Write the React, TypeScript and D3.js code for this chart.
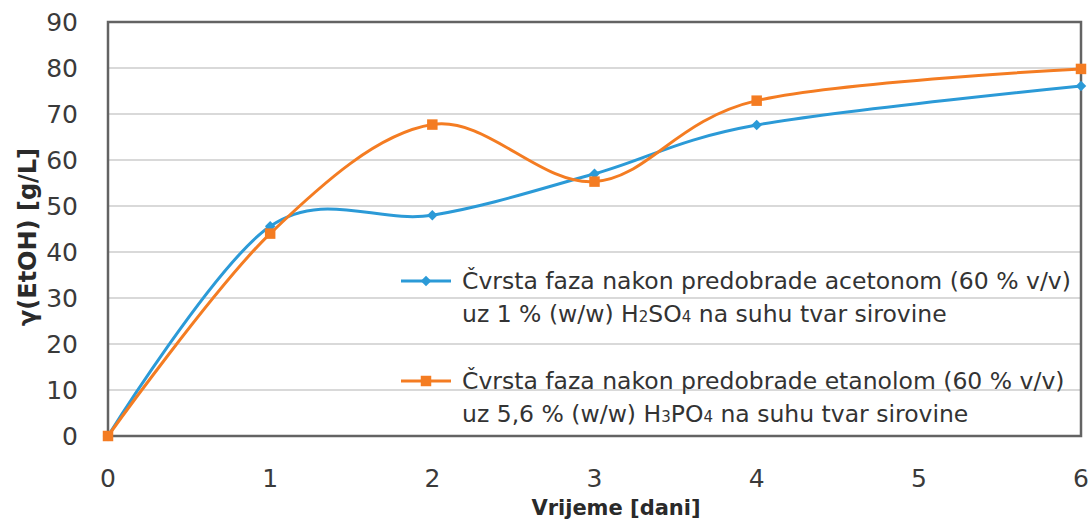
import { useEffect, useRef } from 'react'
import * as d3 from 'd3'

const days = [0, 1, 2, 3, 4, 6]
const acetoneSeries = [0, 45.6, 48, 57, 67.6, 76.1]
const ethanolSeries = [0, 44, 67.7, 55.3, 72.9, 79.8]
const xTicks = [0, 1, 2, 3, 4, 5, 6]
const yTicks = [0, 10, 20, 30, 40, 50, 60, 70, 80, 90]

const blue = '#2b9ad7'
const orange = '#f47c22'
const font = 'DejaVu Sans, Verdana, sans-serif'

const App = () => {
  const ref = useRef<SVGSVGElement | null>(null)
  const width = 1091
  const height = 521

  useEffect(() => {
    if (!ref.current) return
    const svg = d3.select(ref.current)
    svg.selectAll('*').remove()

    const left = 108, right = 1081, top = 22, bottom = 436

    const x = d3.scaleLinear().domain([0, 6]).range([left, right])
    const y = d3.scaleLinear().domain([0, 90]).range([bottom, top])

    svg.append('rect').attr('width', width).attr('height', height).attr('fill', '#fff')

    // grid
    svg.append('g').selectAll('line')
      .data(yTicks.filter(d => d > 0 && d < 90))
      .enter().append('line')
      .attr('x1', left).attr('x2', right)
      .attr('y1', d => y(d)).attr('y2', d => y(d))
      .attr('stroke', '#d9d9d9').attr('stroke-width', 2)

    // frame
    svg.append('rect')
      .attr('x', left).attr('y', top)
      .attr('width', right - left).attr('height', bottom - top)
      .attr('fill', 'none').attr('stroke', '#636363').attr('stroke-width', 2.5)

    // tick labels
    svg.append('g').selectAll('text')
      .data(yTicks).enter().append('text')
      .attr('x', 78).attr('y', d => y(d)).attr('dy', '0.36em')
      .attr('text-anchor', 'end')
      .attr('font-family', font).attr('font-size', 25)
      .attr('fill', '#3a3a3a')
      .text(d => d)

    svg.append('g').selectAll('text')
      .data(xTicks).enter().append('text')
      .attr('x', d => x(d)).attr('y', 478).attr('dy', '0.36em')
      .attr('text-anchor', 'middle')
      .attr('font-family', font).attr('font-size', 25)
      .attr('fill', '#3a3a3a')
      .text(d => d)

    svg.append('text')
      .attr('x', 616).attr('y', 507).attr('dy', '0.36em')
      .attr('text-anchor', 'middle')
      .attr('font-family', font).attr('font-size', 21)
      .attr('font-weight', 'bold').attr('fill', '#2a2a2a')
      .text('Vrijeme [dani]')

    svg.append('text')
      .attr('transform', 'translate(27,237) rotate(-90)')
      .attr('dy', '0.36em')
      .attr('text-anchor', 'middle')
      .attr('font-family', font).attr('font-size', 24)
      .attr('font-weight', 'bold').attr('fill', '#2a2a2a')
      .text('γ(EtOH) [g/L]')

    const line = d3.line<number>()
      .x((d, i) => x(days[i]))
      .y(d => y(d))
      .curve(d3.curveCardinal.tension(0))

    svg.append('path').datum(acetoneSeries)
      .attr('d', line).attr('fill', 'none')
      .attr('stroke', blue).attr('stroke-width', 3)
    svg.append('path').datum(ethanolSeries)
      .attr('d', line).attr('fill', 'none')
      .attr('stroke', orange).attr('stroke-width', 3)

    const diamond = d3.symbol().type(d3.symbolDiamond2).size(70)
    const square = d3.symbol().type(d3.symbolSquare).size(110)

    svg.append('g').selectAll('path')
      .data(acetoneSeries).enter().append('path')
      .attr('d', diamond)
      .attr('transform', (d, i) => `translate(${x(days[i])},${y(d)})`)
      .attr('fill', blue)
    svg.append('g').selectAll('path')
      .data(ethanolSeries).enter().append('path')
      .attr('d', square)
      .attr('transform', (d, i) => `translate(${x(days[i])},${y(d)})`)
      .attr('fill', orange)

    // legend
    const legend = [
      { color: blue, sym: diamond, y: 281, lines: [['Čvrsta faza nakon predobrade acetonom (60 % v/v)'], ['uz 1 % (w/w) H', '2', 'SO', '4', ' na suhu tvar sirovine']] },
      { color: orange, sym: square, y: 381, lines: [['Čvrsta faza nakon predobrade etanolom (60 % v/v)'], ['uz 5,6 % (w/w) H', '3', 'PO', '4', ' na suhu tvar sirovine']] },
    ]
    legend.forEach(item => {
      const g = svg.append('g')
      g.append('line').attr('x1', 401).attr('x2', 451)
        .attr('y1', item.y).attr('y2', item.y)
        .attr('stroke', item.color).attr('stroke-width', 3)
      g.append('path').attr('d', item.sym)
        .attr('transform', `translate(426,${item.y})`).attr('fill', item.color)
      item.lines.forEach((parts, li) => {
        const t = g.append('text')
          .attr('x', 462).attr('y', item.y + li * 33).attr('dy', '0.36em')
          .attr('font-family', font).attr('font-size', 23.5)
          .attr('fill', '#333')
        parts.forEach((p, pi) => {
          t.append('tspan').attr('font-size', pi % 2 === 1 ? 15 : 23.5).text(p)
        })
      })
    })
  }, [])

  return (
    <svg ref={ref} width={width} height={height} style={{ position: 'absolute', left: 0, top: 0 }} />
  )
}

export default App
